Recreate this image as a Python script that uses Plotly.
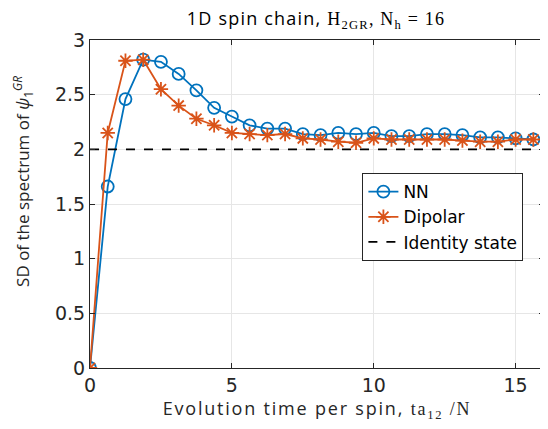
import plotly.graph_objects as go

# time per spin, step 0.625
t = [i * 0.625 for i in range(26)]

nn = [0, 1.66, 2.46, 2.82, 2.80, 2.69, 2.54, 2.38, 2.30, 2.22, 2.19, 2.19, 2.14,
      2.13, 2.15, 2.14, 2.15, 2.12, 2.12, 2.14, 2.14, 2.13, 2.11, 2.11, 2.10, 2.09]
dipolar = [0, 2.15, 2.81, 2.82, 2.55, 2.40, 2.28, 2.22, 2.15, 2.14, 2.13, 2.14, 2.10,
           2.09, 2.07, 2.06, 2.10, 2.09, 2.09, 2.09, 2.09, 2.08, 2.07, 2.07, 2.09, 2.09]
identity_level = 2

BLUE = "#0072BD"
ORANGE = "#D95319"
SERIF = "font-family:'Liberation Serif', serif"
TICK_FONT = dict(family="DejaVu Sans, sans-serif", size=19, color="#262626")
LABEL_FONT = dict(family="Open Sans, sans-serif", size=17, color="#262626")

fig = go.Figure()
fig.add_trace(go.Scatter(
    x=t, y=nn, name="NN", mode="lines+markers",
    line=dict(color=BLUE, width=1.8),
    marker=dict(symbol="circle-open", size=12, color=BLUE, line=dict(width=1.8)),
))
fig.add_trace(go.Scatter(
    x=t, y=dipolar, name="Dipolar", mode="lines+markers",
    line=dict(color=ORANGE, width=1.8),
    marker=dict(symbol="asterisk-open", size=12, color=ORANGE, line=dict(width=1.8, color=ORANGE)),
))
fig.add_trace(go.Scatter(
    x=[0, 16], y=[identity_level, identity_level], name="Identity state", mode="lines",
    line=dict(color="black", width=1.8, dash="dash"),
))

axis_common = dict(
    showline=True, linecolor="#262626", linewidth=1, mirror="ticks",
    ticks="inside", ticklen=5, tickcolor="#262626",
    showgrid=True, gridcolor="#e6e6e6", gridwidth=1,
    zeroline=False, tickfont=TICK_FONT, automargin=False,
)

title_text = (
    "<span style=\"letter-spacing:1.2px\">1D spin chain, "
    f"<span style=\"{SERIF}\">H<sub>2GR</sub>, N<sub>h</sub> = 16</span></span>"
)
xtitle_text = (
    "<span style=\"letter-spacing:1.8px\">Evolution time per spin, "
    f"<span style=\"{SERIF}\">ta<sub>12</sub> /N</span></span>"
)
ytitle_text = "SD of the spectrum of <i>ψ</i><sub>1</sub><sup><i>GR</i></sup>"

fig.update_layout(
    width=548, height=429,
    margin=dict(l=82, r=12, t=32, b=69),
    paper_bgcolor="white", plot_bgcolor="white",
    font=LABEL_FONT,
    title=dict(
        text=title_text,
        x=0.562, xanchor="center", y=0.974, yanchor="middle",
        font=dict(family="Open Sans, sans-serif", size=18, color="black"),
    ),
    xaxis=dict(
        range=[0, 16], tickvals=[0, 5, 10, 15],
        title=dict(text=xtitle_text, standoff=2,
                   font=dict(family="Open Sans, sans-serif", size=18, color="#262626")),
        **axis_common,
    ),
    yaxis=dict(
        range=[0, 3], tickvals=[0, 0.5, 1, 1.5, 2, 2.5, 3],
        ticktext=["0", "0.5", "1", "1.5", "2", "2.5", "3"],
        **axis_common,
    ),
    legend=dict(
        x=0.6, y=0.594, xanchor="left", yanchor="top",
        bgcolor="white", bordercolor="#262626", borderwidth=1,
        font=dict(family="DejaVu Sans, sans-serif", size=17, color="black"),
        tracegroupgap=0, itemwidth=30,
    ),
)

# y title as an annotation so it can be placed where the reference has it
fig.add_annotation(
    text=ytitle_text, textangle=-90, showarrow=False,
    xref="paper", yref="paper", x=-0.15, y=0.57,
    xanchor="center", yanchor="middle", font=LABEL_FONT,
)

fig.write_html("out.html")
